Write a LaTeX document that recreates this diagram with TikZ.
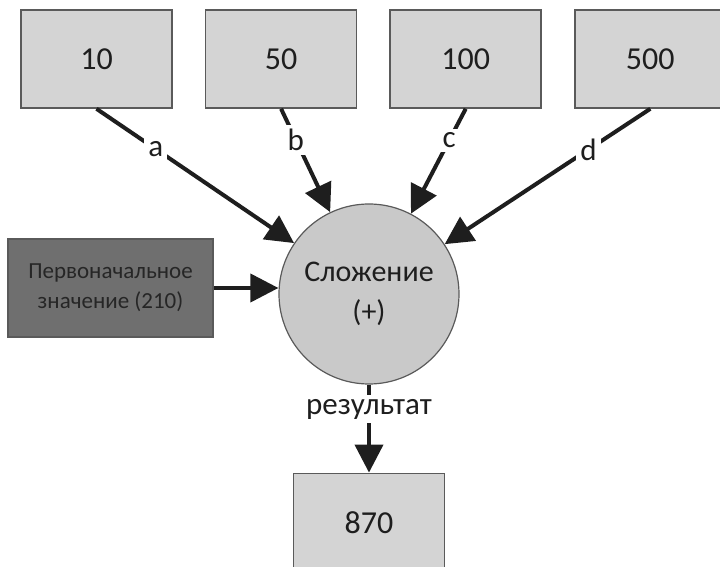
\documentclass[tikz,border=0pt]{standalone}
\usepackage{fontspec}
\setmainfont{Carlito}
\usetikzlibrary{arrows.meta, positioning}

\definecolor{boxgray}{HTML}{D4D4D4}
\definecolor{darkgray}{HTML}{6F6F6F}
\definecolor{rimgray}{HTML}{5A5A5A}
\definecolor{inkgray}{HTML}{1E1E1E}

\begin{document}
\begin{tikzpicture}[
    x=0.5pt, y=-0.5pt,
    % Define node styles
    box/.style={rectangle, draw=rimgray, line width=0.8pt, fill=boxgray, minimum height=49pt, minimum width=75.5pt, align=center, font=\fontsize{16}{18}\selectfont, text=inkgray},
    start/.style={box, fill=darkgray, minimum width=102.5pt, font=\fontsize{11.5}{15}\selectfont, text=black!85},
    adder/.style={circle, draw=rimgray, line width=0.6pt, fill=boxgray!95!black, minimum size=90pt, align=center, font=\fontsize{15}{20}\selectfont, text=inkgray, inner sep=0pt},
    % Define edge style
    edge/.style={-{Triangle[length=14pt, width=14pt]}, line width=2pt, draw=inkgray},
    lbl/.style={fill=white, inner sep=2pt, font=\fontsize{15.5}{17}\selectfont, text=inkgray},
]
\useasboundingbox (0,0) rectangle (720,567);

% Drawing the input boxes row
\node[box] (b10) at (96.5,59) {10};
\node[box, right=16pt of b10] (b50) {50};
\node[box, right=16pt of b50] (b100) {100};
\node[box, right=16pt of b100] (b500) {500};

% Drawing the adder and its start value
\node[adder] (sum) at (369,294) {Сложение\\(+)};
\node[start] (init) at (110.5,288) {Первоначальное\\значение (210)};

% Drawing the result box
\node[box, below=44pt of sum] (res) {870};

% Connecting the inputs to the adder
\foreach \inp/\name in {b10/a, b50/b, b100/c, b500/d} {
    \draw[edge] (\inp.south) -- node[lbl, pos=0.3] {\name} (sum);
}

% Connecting the start value and the result
\draw[edge] (init.east) -- (sum.west |- init.east);
\draw[edge] (sum) -- node[lbl, pos=0.28] {результат} (res);

\end{tikzpicture}
\end{document}
